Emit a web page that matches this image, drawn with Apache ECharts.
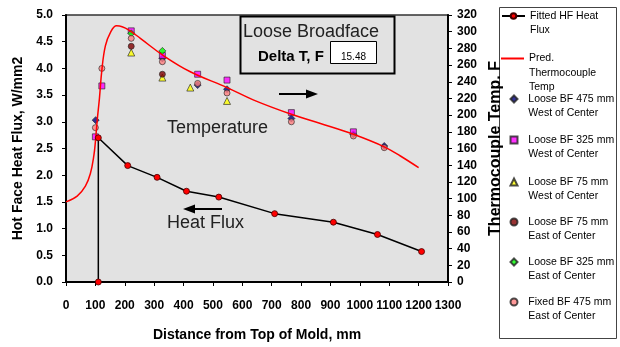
<!DOCTYPE html>
<html><head><meta charset="utf-8">
<script src="https://cdn.jsdelivr.net/npm/echarts@6/dist/echarts.min.js"></script>
<style>html,body{margin:0;padding:0;background:#fff}#c{width:620px;height:347px}</style>
</head><body><div id="c"></div>
<script>
// ---- data ----
const hfX = [110, 110, 210, 310, 410, 520, 710, 910, 1060, 1210];
const hfY = [0, 2.7, 2.18, 1.96, 1.70, 1.59, 1.28, 1.12, 0.89, 0.57];
const predX = [0, 38, 66, 83, 95, 100, 106, 114, 122, 134, 151, 172, 191, 214, 253, 333, 423, 548, 639, 767, 866, 978, 1083, 1138, 1200];
const predT = [96, 103, 115, 130, 152, 168, 193, 221, 254, 283, 299, 307, 306, 302, 292, 271, 252, 233, 218, 201, 190, 177, 162, 151, 137];
const bf475W = [[101, 194], [328, 268], [448, 236], [548, 231], [767, 196], [978, 177], [1083, 163]];
const bf325W = [[100, 174], [122, 235], [222, 301], [328, 271.5], [448, 249], [548, 242], [767, 203], [978, 180]];
const bf75W  = [[222, 275], [328, 245], [423, 233], [548, 217]];
const bf75E  = [[222, 282.5], [328, 249]];
const bf325E = [[222, 298], [328, 277]];
const fx475E = [[100, 185], [122, 256], [222, 292], [328, 264], [448, 238], [548, 226.5], [767, 192], [978, 175], [1083, 161]];
const seriesNames = ['Fitted HF Heat Flux', 'Pred. Thermocouple Temp', 'Loose BF 475 mm West of Center', 'Loose BF 325 mm West of Center', 'Loose BF 75 mm West of Center', 'Loose BF 75 mm East of Center', 'Loose BF 325 mm East of Center', 'Fixed BF 475 mm East of Center'];
const legendLabels = ['Fitted HF Heat\nFlux', 'Pred.\nThermocouple\nTemp', 'Loose BF 475 mm\nWest of Center', 'Loose BF 325 mm\nWest of Center', 'Loose BF 75 mm\nWest of Center', 'Loose BF 75 mm\nEast of Center', 'Loose BF 325 mm\nEast of Center', 'Fixed BF 475 mm\nEast of Center'];
const deltaT = '15.48';

// ---- layout ----
const FF = "'Liberation Sans', Arial, sans-serif";
const legendFirstLine = [16, 58.5, 99, 140, 182, 222, 262, 302];
const LH = 14.5;

const chart = echarts.init(document.getElementById('c'), null, {renderer: 'canvas'});

const legends = seriesNames.map((n, i) => {
  const isMarker = i >= 2;
  let lines = legendLabels[i].split('\n');
  if (isMarker) lines = lines.map(s => '  ' + s);
  const n2 = lines.length;
  // blank lines above so that the icon (centred on the block) sits on the first line
  const txt = new Array(n2 - 1).fill(' ').concat(lines).join('\n');
  const blockH = (2 * n2 - 1) * LH;
  const item = {name: n};
  let ih = 7, iw = 23, left = 501;
  if (i === 1) { item.icon = 'rect'; item.itemStyle = {color: '#ff0000'}; ih = 2; }
  if (isMarker) { iw = 7; left = 509.5; }
  return {
    data: [item], left: left, top: legendFirstLine[i] - blockH / 2, orient: 'vertical', padding: 0,
    itemWidth: iw, itemHeight: ih, selectedMode: false,
    formatter: () => txt,
    textStyle: {fontFamily: FF, fontSize: 10.5, color: '#000', lineHeight: LH}
  };
});

const sym = (color) => ({color: color, borderColor: '#222', borderWidth: 0.8});
const scatter = (name, data, symbol, color, size) => ({
  name, type: 'scatter', yAxisIndex: 1, data, symbol, symbolSize: size, itemStyle: sym(color)
});

const axisCommon = {
  axisLine: {show: true, lineStyle: {color: '#000', width: 2}},
  axisTick: {show: true, length: 4, lineStyle: {color: '#000', width: 1}},
  splitLine: {show: false},
  axisLabel: {color: '#000', fontWeight: 'bold', fontSize: 12, fontFamily: FF}
};

chart.setOption({
  animation: false,
  backgroundColor: '#fff',
  textStyle: {fontFamily: FF},
  grid: {left: 66, right: 172, top: 15, bottom: 60, show: true, backgroundColor: '#e2e2e2', borderColor: '#333', borderWidth: 1.5},
  legend: legends,
  xAxis: Object.assign({}, axisCommon, {
    type: 'value', min: 0, max: 1300, interval: 100,
    axisLabel: Object.assign({}, axisCommon.axisLabel, {margin: 18, formatter: v => String(v)}),
    name: 'Distance from Top of Mold, mm', nameLocation: 'middle', nameGap: 46,
    nameTextStyle: {fontFamily: FF, fontWeight: 'bold', fontSize: 14, color: '#000'}
  }),
  yAxis: [
    Object.assign({}, axisCommon, {
      type: 'value', min: 0, max: 5, interval: 0.5, position: 'left',
      axisLabel: Object.assign({}, axisCommon.axisLabel, {margin: 13, formatter: v => v.toFixed(1)}),
      name: 'Hot Face Heat Flux, W/mm2', nameLocation: 'middle', nameGap: 30, nameRotate: 90,
      nameTextStyle: {fontFamily: FF, fontWeight: 'bold', fontSize: 14, color: '#000'}
    }),
    Object.assign({}, axisCommon, {
      type: 'value', min: 0, max: 320, interval: 20, position: 'right',
      axisLabel: Object.assign({}, axisCommon.axisLabel, {margin: 9, formatter: v => String(v)}),
      name: 'Thermocouple Temp. F', nameLocation: 'middle', nameGap: 38, nameRotate: 90,
      nameTextStyle: {fontFamily: FF, fontWeight: 'bold', fontSize: 16, color: '#000'}
    })
  ],
  series: [
    {name: seriesNames[0], type: 'line', yAxisIndex: 0, data: hfX.map((x, i) => [x, hfY[i]]),
     symbol: 'circle', symbolSize: 6, showSymbol: true,
     lineStyle: {color: '#000', width: 1.5}, itemStyle: {color: '#ff0000', borderColor: '#400', borderWidth: 0.8}},
    {name: seriesNames[1], type: 'line', yAxisIndex: 1, data: predX.map((x, i) => [x, predT[i]]),
     smooth: 0.4, symbol: 'none', lineStyle: {color: '#ff0000', width: 1.5}, itemStyle: {color: '#ff0000'}},
    scatter(seriesNames[2], bf475W, 'diamond', '#000080', 7),
    scatter(seriesNames[3], bf325W, 'rect', '#ff00ff', 6),
    scatter(seriesNames[4], bf75W, 'triangle', '#ffff00', 7),
    scatter(seriesNames[5], bf75E, 'circle', '#800000', 6),
    scatter(seriesNames[6], bf325E, 'diamond', '#00ff00', 7),
    scatter(seriesNames[7], fx475E, 'circle', '#ff8080', 6)
  ],
  graphic: [
    {type: 'rect', shape: {x: 499.5, y: 7.5, width: 117, height: 331}, style: {fill: 'none', stroke: '#444', lineWidth: 1}, z: 0},
    {type: 'rect', shape: {x: 240.5, y: 16.5, width: 154, height: 57}, style: {fill: 'none', stroke: '#000', lineWidth: 2}, z: 10},
    {type: 'text', left: 243, top: 23, style: {text: 'Loose Broadface', font: "18px " + FF, fill: '#222'}, z: 10},
    {type: 'text', left: 258, top: 49, style: {text: 'Delta T, F', font: "bold 15px " + FF, fill: '#000'}, z: 10},
    {type: 'rect', shape: {x: 330.5, y: 41.5, width: 46, height: 22}, style: {fill: '#fff', stroke: '#000', lineWidth: 1}, z: 10},
    {type: 'text', x: 353.5, y: 57, style: {text: deltaT, font: "10px " + FF, fill: '#000', align: 'center', verticalAlign: 'middle'}, z: 11},
    {type: 'line', shape: {x1: 279, y1: 94, x2: 308, y2: 94}, style: {stroke: '#000', lineWidth: 2}, z: 10},
    {type: 'polygon', shape: {points: [[306, 89.5], [318, 94], [306, 98.5]]}, style: {fill: '#000'}, z: 10},
    {type: 'line', shape: {x1: 194, y1: 209, x2: 222, y2: 209}, style: {stroke: '#000', lineWidth: 2}, z: 10},
    {type: 'polygon', shape: {points: [[195, 204.5], [183, 209], [195, 213.5]]}, style: {fill: '#000'}, z: 10},
    {type: 'text', x: 167, y: 128, style: {text: 'Temperature', font: "18px " + FF, fill: '#222', verticalAlign: 'middle'}, z: 10},
    {type: 'text', x: 167, y: 223, style: {text: 'Heat Flux', font: "18px " + FF, fill: '#222', verticalAlign: 'middle'}, z: 10}
  ]
});
</script>
</body></html>
